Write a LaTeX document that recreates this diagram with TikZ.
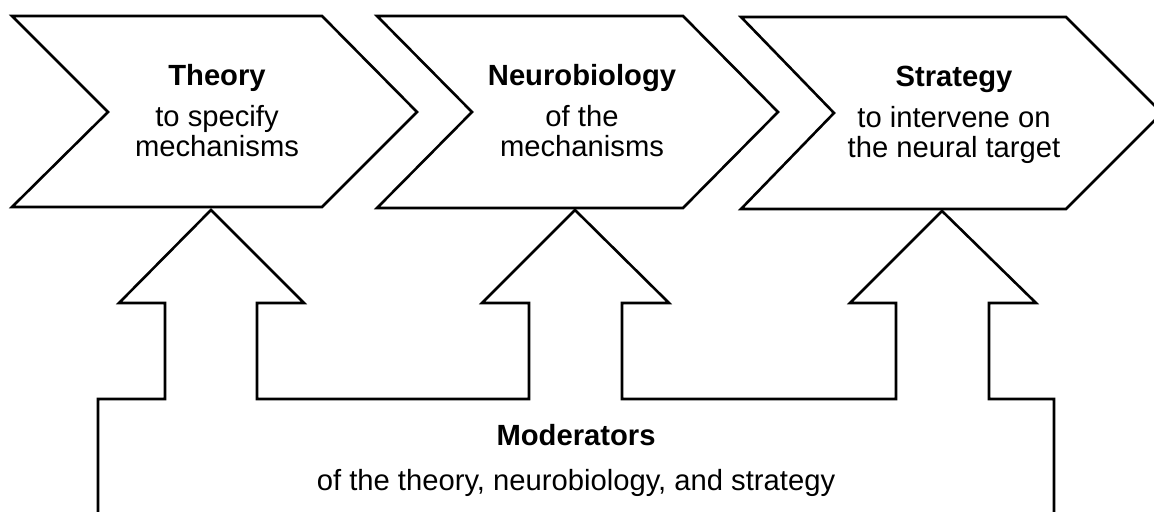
\documentclass[tikz,border=0pt]{standalone}
\usepackage{fontspec}
\setmainfont{Liberation Sans}
\begin{document}
\begin{tikzpicture}[x=0.5pt,y=-0.5pt,
  outline/.style={draw=black, fill=white, line width=1.3pt, line join=miter},
  title/.style={font=\fontsize{14.6}{16}\selectfont\bfseries, anchor=base, inner sep=0pt},
  sub/.style={font=\fontsize{14.6}{16}\selectfont, anchor=base, inner sep=0pt}]
\useasboundingbox (0,0) rectangle (1154,512);
\fill[white] (0,0) rectangle (1154,512);
% chevrons
\draw[outline] (12,16) -- (322,16) -- (417,112) -- (322,207) -- (12,207) -- (108,112) -- cycle;
\draw[outline] (377,16) -- (683,16) -- (778,112) -- (683,208) -- (377,208) -- (472,112) -- cycle;
\draw[outline] (741,17) -- (1066,17) -- (1162,113) -- (1066,209) -- (741,209) -- (834,113) -- cycle;
% moderators with three upward arrows
\draw[outline] (98,514) -- (98,399) -- (165,399) -- (165,303) -- (119,303) -- (211,210)
  -- (304,303) -- (257,303) -- (257,399) -- (529,399) -- (529,303) -- (482,303)
  -- (575,210) -- (669,303) -- (622,303) -- (622,399) -- (896,399) -- (896,303)
  -- (850,303) -- (942,211) -- (1036,303) -- (989,303) -- (989,399) -- (1054,399)
  -- (1054,514) -- cycle;
% texts
\node[title] (theoryT) at (217,86) {Theory};
\node[sub] (theoryA) at (217,127) {to specify};
\node[sub] (theoryB) at (217,157) {mechanisms};
\node[title] (neuroT) at (582,86) {Neurobiology};
\node[sub] (neuroA) at (582,127) {of the};
\node[sub] (neuroB) at (582,157) {mechanisms};
\node[title] (stratT) at (954,87) {Strategy};
\node[sub] (stratA) at (954,128) {to intervene on};
\node[sub] (stratB) at (954,158) {the neural target};
\node[title] (modT) at (576,445) {Moderators};
\node[sub] (modA) at (576,490) {of the theory, neurobiology, and strategy};
\end{tikzpicture}
\end{document}
